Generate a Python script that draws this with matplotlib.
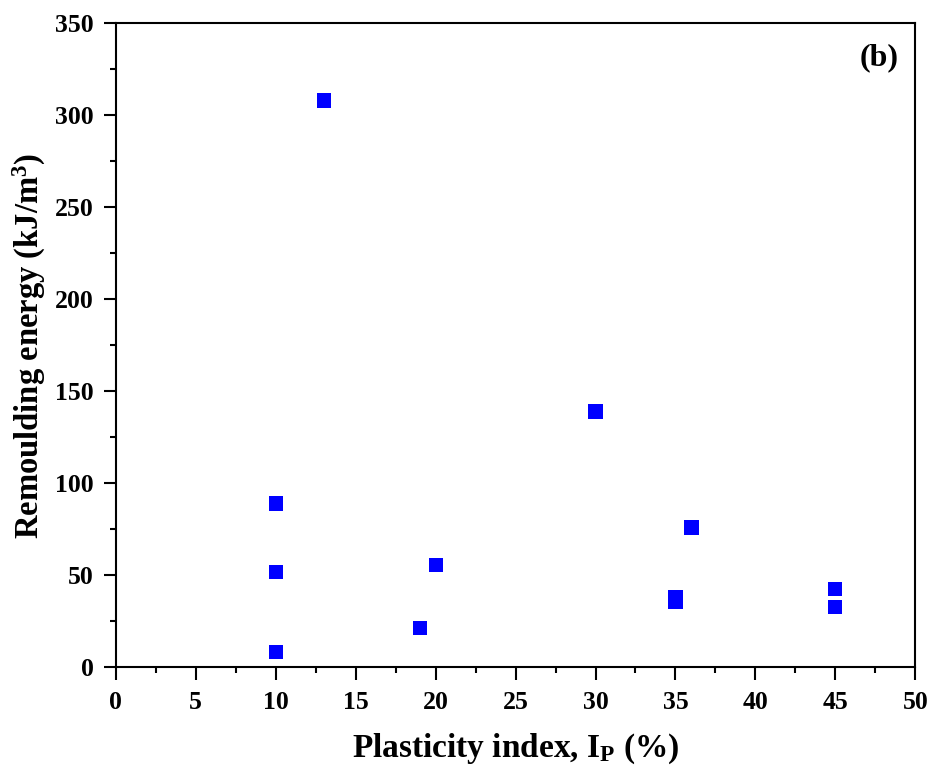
import matplotlib
matplotlib.use("Agg")
import matplotlib.pyplot as plt
from matplotlib.ticker import MultipleLocator

# data
plasticity_index = [10, 10, 10, 13, 19, 20, 30, 35, 35, 36, 45, 45]
remoulding_energy = [8.5, 52, 89, 308, 21.5, 55.5, 139, 38, 35.5, 76, 42.5, 33]

plt.rcParams["font.family"] = "Liberation Serif"
plt.rcParams["font.weight"] = "bold"
plt.rcParams["mathtext.fontset"] = "custom"
plt.rcParams["mathtext.rm"] = "Liberation Serif:bold"
plt.rcParams["mathtext.it"] = "Liberation Serif:bold"
plt.rcParams["mathtext.bf"] = "Liberation Serif:bold"

fig = plt.figure(figsize=(9.34, 7.76), dpi=100)
ax = fig.add_axes([0.124, 0.140, 0.856, 0.830])

ax.scatter(plasticity_index, remoulding_energy, marker="s", s=105,
           color="#0000ff", edgecolors="none", zorder=3)

ax.set_xlim(0, 50)
ax.set_ylim(0, 350)
ax.xaxis.set_major_locator(MultipleLocator(5))
ax.xaxis.set_minor_locator(MultipleLocator(2.5))
ax.yaxis.set_major_locator(MultipleLocator(50))
ax.yaxis.set_minor_locator(MultipleLocator(25))

ax.tick_params(which="major", direction="out", length=9, width=1.5,
               labelsize=18.5)
ax.tick_params(axis="x", which="major", pad=8)
ax.tick_params(axis="y", which="major", pad=7)
ax.tick_params(which="minor", direction="out", length=4.5, width=1.5)
for lbl in ax.get_xticklabels() + ax.get_yticklabels():
    lbl.set_fontweight("bold")
for sp in ax.spines.values():
    sp.set_linewidth(1.5)

ax.set_xlabel(r"Plasticity index, I$_{\mathrm{P}}$ (%)", fontsize=24,
              fontweight="bold", labelpad=13)
ax.set_ylabel(r"Remoulding energy (kJ/m$^{3}$)", fontsize=23.5,
              fontweight="bold", labelpad=5)

ax.text(0.979, 0.969, "(b)", transform=ax.transAxes, ha="right", va="top",
        fontsize=23, fontweight="bold")

fig.savefig("out.png", dpi=100)
